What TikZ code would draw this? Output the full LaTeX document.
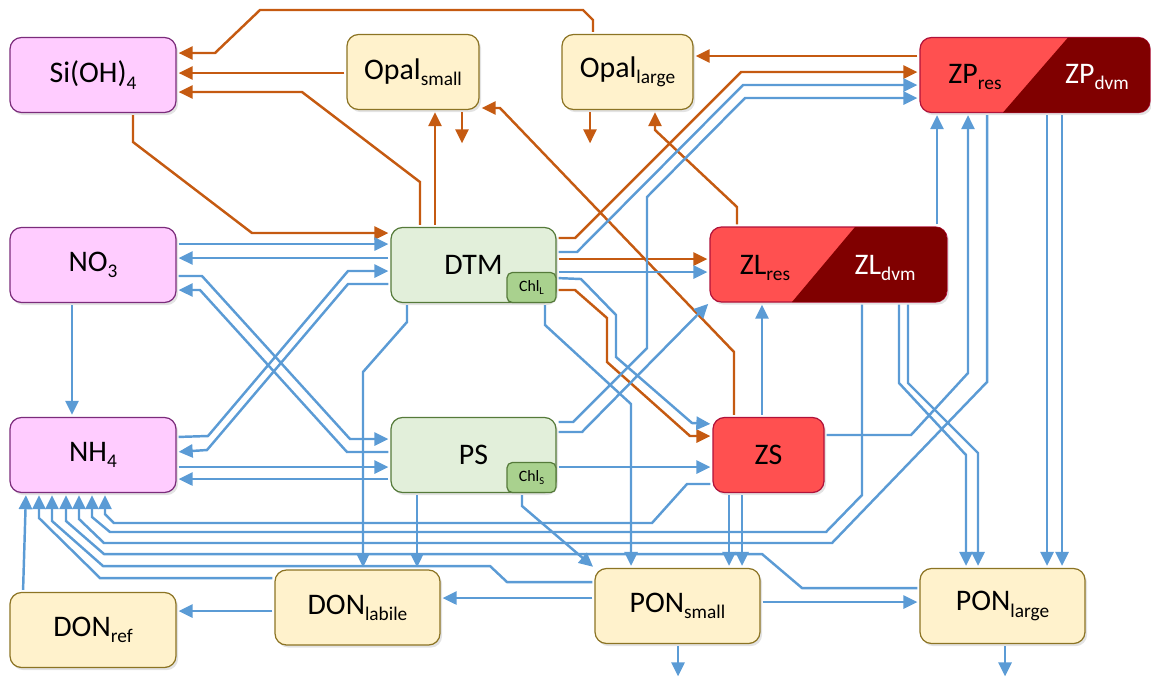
\documentclass[tikz,border=0pt]{standalone}
\usepackage{fontspec}
\setmainfont{Carlito}
\usetikzlibrary{arrows.meta,shadows}

\definecolor{nblue}{HTML}{5B9BD5}
\definecolor{siorange}{HTML}{C55A11}
\definecolor{pinkfill}{HTML}{FFCCFF}
\definecolor{pinkline}{HTML}{7B2C7B}
\definecolor{greenfill}{HTML}{E2EFDA}
\definecolor{greenline}{HTML}{557A3A}
\definecolor{chlfill}{HTML}{A9D18E}
\definecolor{detfill}{HTML}{FFF2CC}
\definecolor{detline}{HTML}{8C7424}
\definecolor{zoofill}{HTML}{FF5050}
\definecolor{zoodark}{HTML}{800000}
\definecolor{zooline}{HTML}{B0123A}

\newcommand{\subtxt}[1]{\raisebox{-3.5pt}{\fontsize{11}{12}\selectfont #1}}
\newcommand{\chlsub}[1]{\raisebox{-2pt}{\fontsize{6}{7}\selectfont #1}}

\begin{document}
\begin{tikzpicture}[x=0.02cm, y=-0.02cm,
	box/.style={rounded corners=6.5pt, line width=0.7pt, outer sep=0pt, minimum height=1.5cm,
		font=\fontsize{17}{20}\selectfont,
		drop shadow={shadow xshift=1.2pt, shadow yshift=-1.5pt, opacity=0.22}},
	nutrient/.style={box, fill=pinkfill, draw=pinkline, minimum width=3.32cm},
	phyto/.style={box, fill=greenfill, draw=greenline, minimum width=3.3cm},
	detritus/.style={box, fill=detfill, draw=detline},
	zoo/.style={box, fill=zoofill, draw=zooline},
	chlbox/.style={rounded corners=3pt, fill=chlfill, draw=greenline, line width=0.7pt, outer sep=0pt,
		minimum width=0.98cm, minimum height=0.6cm, font=\fontsize{9}{10}\selectfont},
	nflow/.style={draw=nblue, line width=1.4pt, -{Triangle[length=8pt,width=7.5pt]},
		shorten <=1.5pt, shorten >=1.5pt},
	siflow/.style={nflow, draw=siorange}]

	\useasboundingbox (0,0) rectangle (1151,681);

	% Nutrients
	\node[nutrient] (Si) at (93,75) {Si(OH)\subtxt{4}};
	\node[nutrient] (NO3) at (93,265) {NO\subtxt{3}};
	\node[nutrient] (NH4) at (93,455) {NH\subtxt{4}};

	% Phytoplankton
	\node[phyto] (DTM) at (473.5,265) {DTM};
	\node[phyto] (PS) at (473.5,455) {PS};
	\node[chlbox, anchor=south east] (ChlL) at (DTM.south east) {Chl\chlsub{L}};
	\node[chlbox, anchor=south east] (ChlS) at (PS.south east) {Chl\chlsub{S}};

	% Detritus
	\node[detritus, minimum width=2.64cm] (OpalS) at (413,72) {Opal\subtxt{small}};
	\node[detritus, minimum width=2.62cm] (OpalL) at (627.5,72) {Opal\subtxt{large}};
	\node[detritus, minimum width=3.32cm] (DONref) at (93,630) {DON\subtxt{ref}};
	\node[detritus, minimum width=3.3cm] (DONlab) at (357.5,607.5) {DON\subtxt{labile}};
	\node[detritus, minimum width=3.3cm] (PONs) at (677.5,606) {PON\subtxt{small}};
	\node[detritus, minimum width=3.3cm] (PONl) at (1002.5,606) {PON\subtxt{large}};

	% Zooplankton
	\node[zoo, minimum width=4.6cm] (ZP) at (1035,75) {};
	\node[zoo, minimum width=4.74cm] (ZL) at (828.5,264.5) {};
	\node[zoo, minimum width=2.22cm] (ZS) at (768.5,455) {ZS};
	\begin{scope}
		\clip[rounded corners=6.5pt] (ZP.south west) rectangle (ZP.north east);
		\fill[zoodark] (1068,0 |- ZP.north) -- (ZP.north east) -- (ZP.south east) -- (1003,0 |- ZP.south) -- cycle;
	\end{scope}
	\begin{scope}
		\clip[rounded corners=6.5pt] (ZL.south west) rectangle (ZL.north east);
		\fill[zoodark] (855,0 |- ZL.north) -- (ZL.north east) -- (ZL.south east) -- (792,0 |- ZL.south) -- cycle;
	\end{scope}
	\node[font=\fontsize{17}{20}\selectfont] (ZPres) at (975,77) {ZP\subtxt{res}};
	\node[font=\fontsize{17}{20}\selectfont, text=white] (ZPdvm) at (1097,77) {ZP\subtxt{dvm}};
	\node[font=\fontsize{17}{20}\selectfont] (ZLres) at (765,268) {ZL\subtxt{res}};
	\node[font=\fontsize{17}{20}\selectfont, text=white] (ZLdvm) at (885,268) {ZL\subtxt{dvm}};

	% Free ends (export)
	\coordinate (OpalSout) at (462,146);
	\coordinate (OpalLout) at (590,146);
	\coordinate (PONsout) at (678,679);
	\coordinate (PONlout) at (1005,679);

	% Silicon fluxes
	\draw[siflow] (OpalL.north -| 593,0) -- (593,20) -- (583,10) -- (260,10) -- (215,53) -- (Si.east |- 0,53);
	\draw[siflow] (OpalS.west |- 0,73) -- (Si.east |- 0,73);
	\draw[siflow] (DTM.north -| 420,0) -- (420,182) -- (302,92) -- (Si.east |- 0,92);
	\draw[siflow] (Si.south -| 133,0) -- (133,142) -- (252,233) -- (DTM.west |- 0,233);
	\draw[siflow] (DTM.north -| 435,0) -- (OpalS.south -| 435,0);
	\draw[siflow] (OpalS.south -| 462,0) -- (OpalSout);
	\draw[siflow] (OpalL.south -| 590,0) -- (OpalLout);
	\draw[siflow] (ZS.north -| 734,0) -- (734,352) -- (500,108) -- (OpalS.east |- 0,108);
	\draw[siflow] (ZL.north -| 737,0) -- (737,207) -- (655,130) -- (OpalL.south -| 655,0);
	\draw[siflow] (ZP.west |- 0,56) -- (OpalL.east |- 0,56);
	\draw[siflow] (DTM.east |- 0,238) -- (575,238) -- (741,72) -- (ZP.west |- 0,72);
	\draw[siflow] (DTM.east |- 0,259) -- (ZL.west |- 0,259);
	\draw[siflow] (DTM.east |- 0,290) -- (575,290) -- (607,318) -- (607,362) -- (690,436) -- (ZS.west |- 0,436);

	% Nitrogen: nutrients and phytoplankton
	\draw[nflow] (NO3.east |- 0,244) -- (DTM.west |- 0,244);
	\draw[nflow] (DTM.west |- 0,258) -- (NO3.east |- 0,258);
	\draw[nflow] (NO3.east |- 0,276) -- (202,276) -- (350,439) -- (PS.west |- 0,439);
	\draw[nflow] (PS.west |- 0,452) -- (347,452) -- (200,290) -- (NO3.east |- 0,290);
	\draw[nflow] (NH4.east |- 0,437) -- (208,436) -- (348,271) -- (DTM.west |- 0,271);
	\draw[nflow] (DTM.west |- 0,284) -- (348,284) -- (207,450) -- (NH4.east |- 0,452);
	\draw[nflow] (NH4.east |- 0,467) -- (PS.west |- 0,467);
	\draw[nflow] (PS.west |- 0,479) -- (NH4.east |- 0,479);
	\draw[nflow] (NO3.south -| 72,0) -- (NH4.north -| 72,0);
	\draw[nflow] (DONref.north -| 23,0) -- (NH4.south -| 26,0);

	% Nitrogen: grazing
	\draw[nflow] (DTM.east |- 0,252) -- (577,252) -- (743,85) -- (ZP.west |- 0,85);
	\draw[nflow] (DTM.east |- 0,272) -- (ZL.west |- 0,272);
	\draw[nflow] (DTM.east |- 0,278) -- (581,279) -- (616,315) -- (616,357) -- (692,423) -- (ZS.west |- 0,424);
	\draw[nflow] (PS.east |- 0,422) -- (573,422) -- (647,348) -- (647,197) -- (745,98) -- (ZP.west |- 0,98);
	\draw[nflow] (PS.east |- 0,432) -- (582,432) -- (ZL.south west);
	\draw[nflow] (PS.east |- 0,467) -- (ZS.west |- 0,467);
	\draw[nflow] (ZS.north -| 762,0) -- (ZL.south -| 762,0);
	\draw[nflow] (ZS.east |- 0,435) -- (911,435) -- (968,373) -- (ZP.south -| 968,0);
	\draw[nflow] (ZL.north -| 937,0) -- (ZP.south -| 937,0);

	% Nitrogen: to detritus
	\draw[nflow] (ChlL.south -| 545,0) -- (545,325) -- (631,404) -- (PONs.north -| 631,0);
	\draw[nflow] (DTM.south -| 407,0) -- (407,322) -- (363,372) -- (DONlab.north -| 363,0);
	\draw[nflow] (PS.south -| 417,0) -- (DONlab.north -| 417,0);
	\draw[nflow] (ChlS.south -| 522,0) -- (522,506) -- (PONs.north west);
	\draw[nflow] (ZS.south -| 729,0) -- (PONs.north -| 729,0);
	\draw[nflow] (ZS.south -| 742,0) -- (PONs.north -| 742,0);
	\draw[nflow] (ZP.south -| 1047,0) -- (PONl.north -| 1047,0);
	\draw[nflow] (ZP.south -| 1062,0) -- (PONl.north -| 1062,0);
	\draw[nflow] (ZL.south -| 899,0) -- (899,383) -- (966,455) -- (PONl.north -| 966,0);
	\draw[nflow] (ZL.south -| 908,0) -- (908,383) -- (978,453) -- (PONl.north -| 978,0);
	\draw[nflow] (PONs.west |- 0,598) -- (DONlab.east |- 0,598);
	\draw[nflow] (DONlab.west |- 0,611) -- (DONref.east |- 0,611);
	\draw[nflow] (PONs.east |- 0,602) -- (PONl.west |- 0,602);
	\draw[nflow] (PONs.south -| 678,0) -- (PONsout);
	\draw[nflow] (PONl.south -| 1005,0) -- (PONlout);

	% Nitrogen: back to ammonium
	\draw[nflow] (ZS.west |- 0,484) -- (687,484) -- (652,523) -- (114,523) -- (105,514) -- (NH4.south -| 105,0);
	\draw[nflow] (ZL.south -| 862,0) -- (862,495) -- (826,532) -- (110,532) -- (92,517) -- (NH4.south -| 92,0);
	\draw[nflow] (ZP.south -| 987,0) -- (987,382) -- (832,543) -- (104,543) -- (79,519) -- (NH4.south -| 79,0);
	\draw[nflow] (PONl.west |- 0,588) -- (802,588) -- (762,554) -- (104,554) -- (66,521) -- (NH4.south -| 66,0);
	\draw[nflow] (PONs.west |- 0,582) -- (507,582) -- (490,566) -- (103,566) -- (52,521) -- (NH4.south -| 52,0);
	\draw[nflow] (DONlab.west |- 0,578) -- (100,578) -- (39,518) -- (NH4.south -| 39,0);

\end{tikzpicture}
\end{document}
